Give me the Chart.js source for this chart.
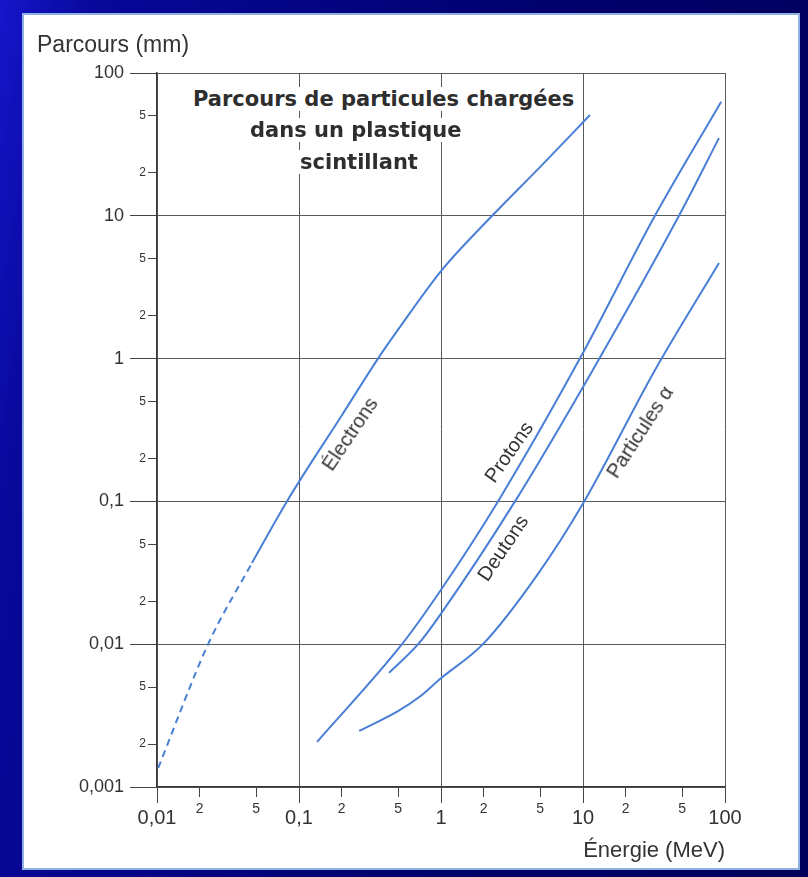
<!DOCTYPE html>
<html>
<head>
<meta charset="utf-8">
<script src="https://cdn.jsdelivr.net/npm/chart.js@4.4.1/dist/chart.umd.min.js"></script>
<style>
  body { margin: 0; width: 808px; height: 877px; overflow: hidden;
    background: linear-gradient(100deg, #1616cc 0%, #08089a 10%, #00006e 55%, #00005a 100%); }
  #panel { position: absolute; left: 22px; top: 13px; width: 774px; height: 853px;
    background: #fff; border: 2px solid #8fb0e0; }
  canvas { position: absolute; left: 0; top: 0; }
  .txt { position: absolute; font-family: "Liberation Sans", Arial, sans-serif; color: #333; white-space: nowrap; line-height: normal; }
  .title { font-family: "DejaVu Sans", sans-serif; font-weight: bold; font-size: 21px; color: #2e2e2e; background: #fff; padding: 0 2px; }
  .curve { font-size: 20px; }
</style>
</head>
<body>
<div id="panel"></div>
<canvas id="rangeChart" width="808" height="877"></canvas>

<div class="txt" style="left:37px; top:31px; font-size:23px;">Parcours (mm)</div>
<div class="txt title" style="left:191px; top:87px;">Parcours de particules chargées</div>
<div class="txt title" style="left:248px; top:118px;">dans un plastique</div>
<div class="txt title" style="left:298px; top:150px;">scintillant</div>

<div class="txt curve" style="left:350px; top:434px; transform: translate(-50%,-50%) rotate(-56deg);">Électrons</div>
<div class="txt curve" style="left:509px; top:452px; transform: translate(-50%,-50%) rotate(-55deg);">Protons</div>
<div class="txt curve" style="left:503px; top:548px; transform: translate(-50%,-50%) rotate(-56deg);">Deutons</div>
<div class="txt curve" style="left:640px; top:432px; transform: translate(-50%,-50%) rotate(-57deg);">Particules α</div>

<script>
// Énergie (MeV) / parcours (mm)
const electronEnergy = [0.0102, 0.0229, 0.0467, 0.0822, 0.2, 0.36, 0.5, 1, 2.29, 5, 11.2];
const electronRange  = [0.00136, 0.01, 0.0371, 0.1, 0.4, 1, 1.6, 4.1, 10, 22, 50.8];
const electronDashedUpTo = 2; // dashed up to this point index

const protonEnergy = [0.134, 0.531, 0.984, 2.52, 9.5, 32.1, 94];
const protonRange  = [0.00207, 0.01, 0.0235, 0.1, 1, 10, 63];

const deutonEnergy = [0.43, 0.69, 0.984, 3.32, 11.7, 47.4, 90.7];
const deutonRange  = [0.0063, 0.01, 0.016, 0.1, 0.83, 10, 35];

const alphaEnergy = [0.265, 0.498, 0.711, 0.984, 1.99, 4.7, 10.2, 32.1, 90.7];
const alphaRange  = [0.00247, 0.0034, 0.0043, 0.0057, 0.0101, 0.03, 0.1, 0.83, 4.67];

// tick values
const xMajorTicks = [0.01, 0.1, 1, 10, 100];
const xMinorTicks = [0.02, 0.05, 0.2, 0.5, 2, 5, 20, 50];
const yMajorTicks = [0.001, 0.01, 0.1, 1, 10, 100];
const yMinorTicks = [0.002, 0.005, 0.02, 0.05, 0.2, 0.5, 2, 5, 20, 50];

const curveColor = '#4a7fd6';
const textColor = '#333';
const tickColor = '#444';
const fontFamily = '"Liberation Sans", Arial, sans-serif';

function toPoints(xs, ys) {
    return xs.map((x, i) => ({ x: x, y: ys[i] }));
}

function isMajor(v) {
    const l = Math.log10(v);
    return Math.abs(l - Math.round(l)) < 1e-6;
}

function majorLabel(v) {
    return String(v).replace('.', ',');
}

function minorLabel(v) {
    const p = Math.pow(10, Math.floor(Math.log10(v) + 1e-9));
    return String(Math.round(v / p));
}

function setTicks(values) {
    return axis => { axis.ticks = values.map(v => ({ value: v })); };
}

function lineDataset(label, xs, ys, extra) {
    return Object.assign({
        label: label,
        data: toPoints(xs, ys),
        borderColor: curveColor,
        borderWidth: 2,
        pointRadius: 0,
        fill: false,
        cubicInterpolationMode: 'monotone'
    }, extra || {});
}

const ctx = document.getElementById('rangeChart').getContext('2d');

// the inner left strip spans x 135..157; minor marks only show their last 9 px
const minorTickFade = ctx.createLinearGradient(135, 0, 157, 0);
minorTickFade.addColorStop(0, 'rgba(0,0,0,0)');
minorTickFade.addColorStop(0.58, 'rgba(0,0,0,0)');
minorTickFade.addColorStop(0.6, tickColor);
minorTickFade.addColorStop(1, tickColor);

new Chart(ctx, {
    type: 'line',
    data: {
        datasets: [
            lineDataset('Électrons', electronEnergy, electronRange, {
                segment: {
                    borderDash: c => c.p1DataIndex <= electronDashedUpTo ? [7, 5] : undefined
                }
            }),
            lineDataset('Protons', protonEnergy, protonRange),
            lineDataset('Deutons', deutonEnergy, deutonRange),
            lineDataset('Particules α', alphaEnergy, alphaRange)
        ]
    },
    options: {
        responsive: false,
        animation: false,
        events: [],
        layout: { padding: { left: 0, top: 73, right: 83, bottom: 0 } },
        plugins: {
            legend: { display: false },
            tooltip: { enabled: false },
            title: { display: false }
        },
        scales: {
            // short ticks 2 and 5 under the energy axis
            xMinor: {
                type: 'logarithmic', axis: 'x', position: { y: 0.001 },
                min: 0.01, max: 100,
                afterBuildTicks: setTicks(xMinorTicks),
                grid: { drawOnChartArea: false, tickLength: 10, tickColor: tickColor, tickWidth: 1 },
                border: { display: false },
                ticks: {
                    autoSkip: false, maxRotation: 0, padding: 4,
                    color: textColor, font: { family: fontFamily, size: 14 },
                    callback: v => minorLabel(v)
                }
            },
            x: {
                type: 'logarithmic', position: 'bottom',
                min: 0.01, max: 100,
                afterBuildTicks: setTicks(xMajorTicks),
                afterFit: s => { s.height = 90; },
                grid: { color: '#5a5a5a', lineWidth: 1, tickLength: 16, tickColor: tickColor },
                border: { display: true, color: '#3a3a3a', width: 1.5 },
                ticks: {
                    autoSkip: false, maxRotation: 0, padding: 3,
                    color: textColor, font: { family: fontFamily, size: 20 },
                    callback: v => majorLabel(v)
                },
                title: {
                    display: true, text: 'Énergie (MeV)', align: 'end',
                    color: textColor, font: { family: fontFamily, size: 22 },
                    padding: { top: 0, bottom: 13 }
                }
            },
            // inner strip of the range axis: all tick marks, labels 2 and 5
            yMinor: {
                type: 'logarithmic', axis: 'y', position: 'left', weight: 0,
                min: 0.001, max: 100,
                afterBuildTicks: setTicks(yMajorTicks.concat(yMinorTicks).sort((a, b) => a - b)),
                afterFit: s => { s.width = 22; },
                grid: {
                    drawOnChartArea: false, tickLength: 22, tickWidth: 1,
                    tickColor: c => isMajor(c.tick.value) ? tickColor : minorTickFade
                },
                border: { display: true, color: '#3a3a3a', width: 1.5 },
                ticks: {
                    autoSkip: false, padding: -11,
                    color: textColor, font: { family: fontFamily, size: 12 },
                    callback: v => isMajor(v) ? '' : minorLabel(v)
                }
            },
            y: {
                type: 'logarithmic', position: 'left', weight: 1,
                min: 0.001, max: 100,
                afterBuildTicks: setTicks(yMajorTicks),
                afterFit: s => { s.width = 135; },
                grid: { color: '#5a5a5a', lineWidth: 1, tickLength: 5, tickColor: tickColor },
                border: { display: false },
                ticks: {
                    autoSkip: false, padding: 6,
                    color: textColor, font: { family: fontFamily, size: 18 },
                    callback: v => majorLabel(v)
                }
            }
        }
    }
});
</script>
</body>
</html>
